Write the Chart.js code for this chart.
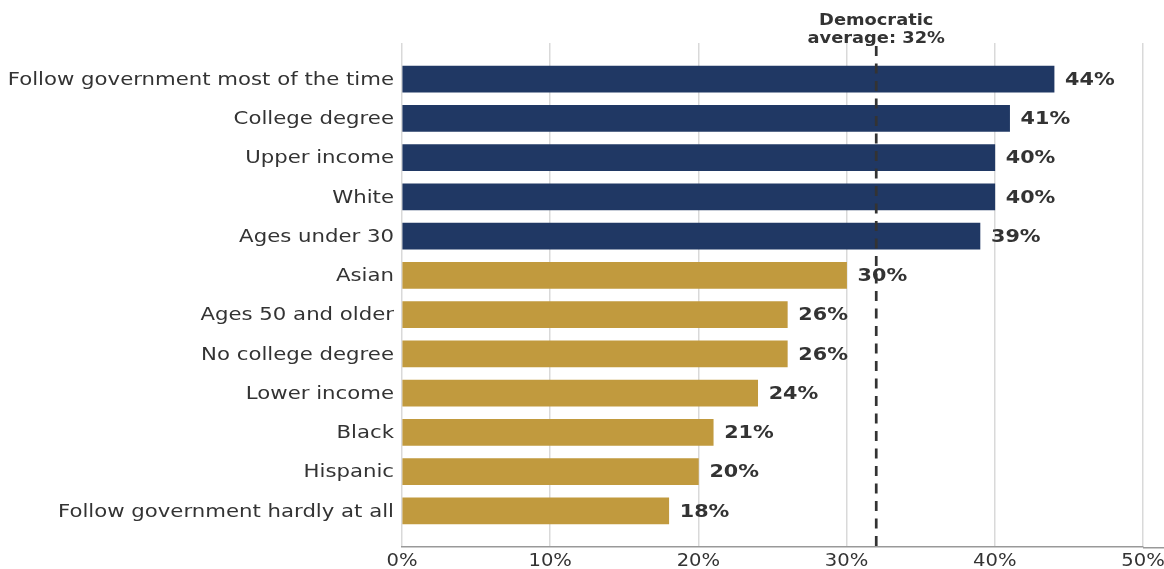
<!DOCTYPE html>
<html><head><meta charset="utf-8">
<script src="https://cdn.jsdelivr.net/npm/chart.js@4.4.0/dist/chart.umd.min.js"></script>
<style>html,body{margin:0;padding:0;background:#fff}#wrap{width:1164px;height:569px}</style>
</head><body><div id="wrap"><canvas id="c" width="1164" height="569"></canvas></div>
<script>
const categories = ["Follow government most of the time","College degree","Upper income","White","Ages under 30","Asian","Ages 50 and older","No college degree","Lower income","Black","Hispanic","Follow government hardly at all"];
const values = [44,41,40,40,39,30,26,26,24,21,20,18];
const aboveAverage = [true,true,true,true,true,false,false,false,false,false,false,false];
const xTicks = [0,10,20,30,40,50];
const averageValue = 32;
const averageLabel = ["Democratic","average: 32%"];

const NAVY = "#203864", GOLD = "#c19a3e", TXT = "#333333";
const FONT = "'DejaVu Sans', sans-serif";

function wideText(ctx, text, x, y, align, stretch) {
  ctx.save();
  ctx.translate(x, y);
  ctx.scale(stretch, 1);
  ctx.textAlign = align;
  ctx.fillText(text, 0, 0);
  ctx.restore();
}

const extras = {
  id: "extras",
  afterDraw(chart) {
    const ctx = chart.ctx, xs = chart.scales.x, ys = chart.scales.y, ca = chart.chartArea;
    ctx.save();
    ctx.strokeStyle = "#999999";
    ctx.lineWidth = 1.5;
    ctx.beginPath();
    ctx.moveTo(ca.right, ca.bottom + 0.75);
    ctx.lineTo(chart.width, ca.bottom + 0.75);
    ctx.stroke();

    ctx.fillStyle = TXT;
    ctx.textBaseline = "middle";
    ctx.font = "18px " + FONT;
    categories.forEach((c, i) => wideText(ctx, c, ca.left - 8, ys.getPixelForValue(i) + 1, "right", 1.18));
    ctx.font = "17px " + FONT;
    xTicks.forEach(v => wideText(ctx, v + "%", xs.getPixelForValue(v), ca.bottom + 15, "center", 1.15));
    ctx.font = "bold 18px " + FONT;
    values.forEach((v, i) => wideText(ctx, v + "%", xs.getPixelForValue(v) + 11, ys.getPixelForValue(i) + 1, "left", 1.15));
    const ax = xs.getPixelForValue(averageValue);
    ctx.strokeStyle = TXT;
    ctx.lineWidth = 2.7;
    ctx.setLineDash([10, 7.5]);
    ctx.beginPath();
    ctx.moveTo(ax, 46);
    ctx.lineTo(ax, ca.bottom);
    ctx.stroke();
    ctx.setLineDash([]);
    ctx.font = "bold 15.5px " + FONT;
    wideText(ctx, averageLabel[0], ax, 21, "center", 1.15);
    wideText(ctx, averageLabel[1], ax, 39, "center", 1.15);
    ctx.restore();
  }
};

new Chart(document.getElementById("c"), {
  type: "bar",
  data: {
    labels: categories,
    datasets: [{
      data: values.map((v, i) => ({x: v, y: i})),
      backgroundColor: aboveAverage.map(a => a ? NAVY : GOLD),
      barThickness: 26,
      borderWidth: 0
    }]
  },
  options: {
    indexAxis: "y",
    responsive: false,
    animation: false,
    layout: {padding: {top: 43, left: 0, right: 21, bottom: 0}},
    plugins: {legend: {display: false}, tooltip: {enabled: false}},
    scales: {
      x: {
        type: "linear", min: 0, max: 50,
        afterBuildTicks: s => { s.ticks = xTicks.map(v => ({value: v})); },
        ticks: {display: false},
        grid: {color: "#d9d9d9", lineWidth: 1.5, drawTicks: false},
        border: {display: true, color: "#999999", width: 1.5},
        afterFit: s => { s.height = 22; }
      },
      y: {
        type: "linear", min: -0.92, max: 11.92, reverse: true, offset: false,
        afterBuildTicks: s => { s.ticks = categories.map((c, i) => ({value: i})); },
        ticks: {display: false},
        grid: {display: false, drawTicks: false},
        border: {display: false},
        afterFit: s => { s.width = 402; }
      }
    }
  },
  plugins: [extras]
});
</script></body></html>
